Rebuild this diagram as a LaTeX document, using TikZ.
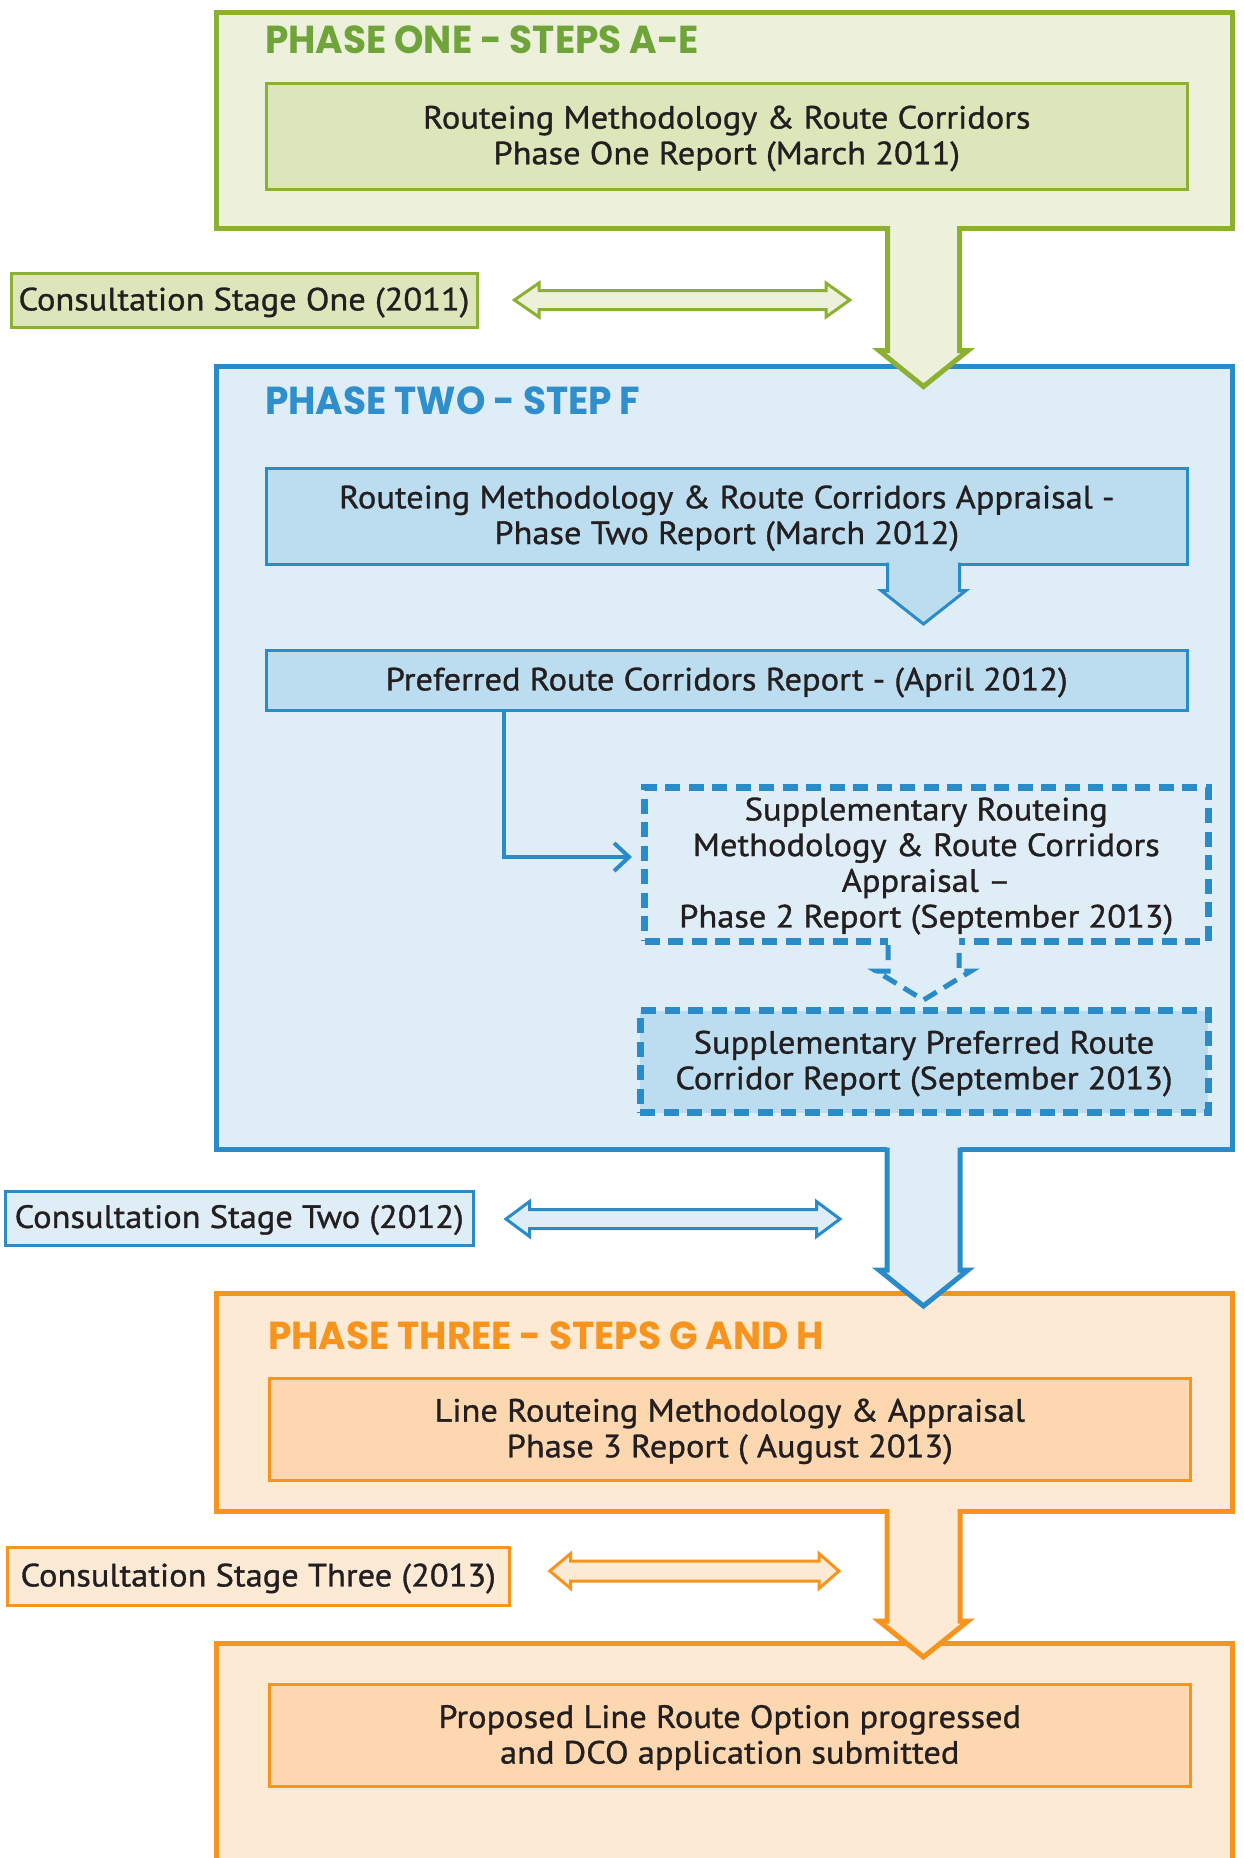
\documentclass[tikz,border=0pt]{standalone}
\usepackage{fontspec}
\setmainfont{PT Sans}[FakeStretch=1.07, FakeBold=1]
\newfontfamily\titlefont{Poppins}[FakeStretch=0.96]
\usetikzlibrary{arrows.meta,calc}
\definecolor{gline}{HTML}{8CB031}
\definecolor{gtitle}{HTML}{6FA43A}
\definecolor{gbg}{HTML}{EDF1DB}
\definecolor{gin}{HTML}{DDE6BA}
\definecolor{bline}{HTML}{2A8BC9}
\definecolor{btitle}{HTML}{2E8FCC}
\definecolor{bbg}{HTML}{DFEDF7}
\definecolor{bin}{HTML}{BCDDEF}
\definecolor{oline}{HTML}{F7941E}
\definecolor{otitle}{HTML}{F7941E}
\definecolor{obg}{HTML}{FDEAD5}
\definecolor{oin}{HTML}{FDD7AF}
\definecolor{txt}{HTML}{231F20}
\tikzset{
  every node/.style={outer sep=0pt, inner sep=0pt},
  body/.style={font=\fontsize{32.2}{35.7}\selectfont, text=txt, align=center},
  outerbox/.style={rectangle, draw=#1, line width=5pt, anchor=north west},
  innerbox/.style={rectangle, draw=#1, line width=3pt, anchor=north west},
  consult/.style={rectangle, draw=#1, line width=3pt, anchor=north west},
  phasetitle/.style={anchor=base west, font=\titlefont\bfseries\fontsize{39}{44}\selectfont, text=#1},
  dashbox/.style={rectangle, draw=bline, line width=7pt, dash pattern=on 15pt off 8.5pt, anchor=north west},
  bigarrow/.style={line width=5pt, line join=miter, draw=#1},
  dblarrow/.style={line width=3pt, line join=miter, draw=#1},
}
\begin{document}
\begin{tikzpicture}[x=1pt,y=-1pt]
\useasboundingbox (0,0) rectangle (1243,1858);
\fill[white] (0,0) rectangle (1243,1858);

% ---------- Phase one ----------
\node[outerbox=gline, fill=gbg, minimum width=1016pt, minimum height=216.5pt] (p1) at (216,12) {};
\node[phasetitle=gtitle] (t1) at (265,53) {PHASE ONE - STEPS A-E};
\node[innerbox=gline, fill=gin, minimum width=921.5pt, minimum height=106pt] (p1r) at (266,83.5) {};
\node[body] (p1rt) at ([yshift=-2pt]p1r.center) {Routeing Methodology \& Route Corridors\\Phase One Report (March 2011)};

% ---------- Phase two ----------
\node[outerbox=bline, fill=bbg, minimum width=1016pt, minimum height=783.5pt] (p2) at (216,366) {};
\node[phasetitle=btitle] (t2) at (265,414) {PHASE TWO - STEP F};
\node[innerbox=bline, fill=bin, minimum width=921.5pt, minimum height=95.5pt] (p2r) at (266,468.5) {};
\node[body] (p2rt) at ([yshift=-2pt]p2r.center) {Routeing Methodology \& Route Corridors Appraisal -\\Phase Two Report (March 2012)};
\node[innerbox=bline, fill=bin, minimum width=921.5pt, minimum height=60pt] (pref) at (266,650.5) {};
\node[body] (preft) at ([yshift=-2pt]pref.center) {Preferred Route Corridors Report - (April 2012)};
\node[dashbox, minimum width=563.5pt, minimum height=154pt] (s1) at (644.5,787) {};
\node[body] (s1t) at ([yshift=-2pt]s1.center) {Supplementary Routeing\\Methodology \& Route Corridors\\Appraisal --\\Phase 2 Report (September 2013)};
\node[dashbox, fill=bin, minimum width=568pt, minimum height=102pt] (s2) at (640,1010.5) {};
\node[body] (s2t) at ([yshift=-2pt]s2.center) {Supplementary Preferred Route\\Corridor Report (September 2013)};

% ---------- Phase three ----------
\node[outerbox=oline, fill=obg, minimum width=1016pt, minimum height=218pt] (p3) at (216,1293) {};
\node[phasetitle=otitle] (t3) at (268,1349) {PHASE THREE - STEPS G AND H};
\node[innerbox=oline, fill=oin, minimum width=920.5pt, minimum height=102pt] (p3r) at (269.5,1378.5) {};
\node[body] (p3rt) at ([yshift=-2pt]p3r.center) {Line Routeing Methodology \& Appraisal\\Phase 3 Report ( August 2013)};

% ---------- Final ----------
\node[outerbox=oline, fill=obg, minimum width=1016pt, minimum height=300pt] (p4) at (216,1643) {};
\node[innerbox=oline, fill=oin, minimum width=920.5pt, minimum height=102pt] (p4r) at (269.5,1684.5) {};
\node[body] (p4rt) at ([yshift=-2pt]p4r.center) {Proposed Line Route Option progressed\\and DCO application submitted};

% ---------- Consultation boxes ----------
\node[consult=gline, fill=gin, minimum width=466pt, minimum height=54pt] (c1) at (11,273.5) {};
\node[body] (c1t) at ([yshift=-2pt]c1.center) {Consultation Stage One (2011)};
\node[consult=bline, fill=bbg, minimum width=468.5pt, minimum height=54pt] (c2) at (5,1191) {};
\node[body] (c2t) at ([yshift=-2pt]c2.center) {Consultation Stage Two (2012)};
\node[consult=oline, fill=obg, minimum width=502.5pt, minimum height=58pt] (c3) at (7,1547.5) {};
\node[body] (c3t) at ([yshift=-2pt]c3.center) {Consultation Stage Three (2013)};

% ---------- Consultation double arrows ----------
\draw[dblarrow=gline, fill=gbg] (514.4,300) -- (539,283) -- (539,290.5) -- (826,290.5) -- (826,283) -- (849.8,300)
  -- (826,317) -- (826,309.5) -- (539,309.5) -- (539,317) -- cycle;
\draw[dblarrow=bline, fill=bbg] (506,1219) -- (529.5,1201.5) -- (529.5,1209.5) -- (816.5,1209.5) -- (816.5,1201.5) -- (840,1219)
  -- (816.5,1236.5) -- (816.5,1228.5) -- (529.5,1228.5) -- (529.5,1236.5) -- cycle;
\draw[dblarrow=oline, fill=obg] (549.8,1571) -- (570.7,1553.5) -- (570.7,1561) -- (819,1561) -- (819,1553.5) -- (839,1571)
  -- (819,1588.5) -- (819,1581) -- (570.7,1581) -- (570.7,1588.5) -- cycle;

% ---------- Small arrows in phase two ----------
\fill[bin] (887.5,561) -- (887.5,590.5) -- (881,590.5) -- (923.5,624) -- (966,590.5) -- (959.5,590.5) -- (959.5,561) -- cycle;
\draw[line width=3pt, line join=miter, draw=bline] (887.5,562.5) -- (887.5,590.5) -- (881,590.5) -- (923.5,624) -- (966,590.5) -- (959.5,590.5) -- (959.5,562.5);

\fill[bbg] (888,936) -- (888,971) -- (876,971) -- (923.5,1000) -- (971,971) -- (959,971) -- (959,936) -- cycle;
\draw[line width=5pt, draw=bline, dash pattern=on 15pt off 8.5pt] (888,945) -- (888,971) -- (876,971) -- (923.5,1000) -- (971,971) -- (959,971) -- (959,945);

\coordinate (elb) at (504,0);
\draw[line width=4pt, draw=bline, -{Straight Barb[length=15pt,width=28pt]}, shorten >=12.5pt]
  (pref.south -| elb) |- ([yshift=7pt]s1.west);

% ---------- Big arrows ----------
\fill[gbg] (887.5,225) -- (887.5,350.5) -- (879,350.5) -- (923.5,386.5) -- (968,350.5) -- (959.5,350.5) -- (959.5,225) -- cycle;
\draw[bigarrow=gline] (887.5,226) -- (887.5,350.5) -- (879,350.5) -- (923.5,386.5) -- (968,350.5) -- (959.5,350.5) -- (959.5,226);

\fill[bbg] (887,1146) -- (887,1270) -- (879,1270) -- (923.5,1306) -- (968,1270) -- (960,1270) -- (960,1146) -- cycle;
\draw[bigarrow=bline] (887,1147.5) -- (887,1270) -- (879,1270) -- (923.5,1306) -- (968,1270) -- (960,1270) -- (960,1147.5);

\fill[obg] (887,1508) -- (887,1621) -- (879,1621) -- (923.5,1657) -- (968,1621) -- (960,1621) -- (960,1508) -- cycle;
\draw[bigarrow=oline] (887,1509) -- (887,1621) -- (879,1621) -- (923.5,1657) -- (968,1621) -- (960,1621) -- (960,1509);
\end{tikzpicture}
\end{document}
